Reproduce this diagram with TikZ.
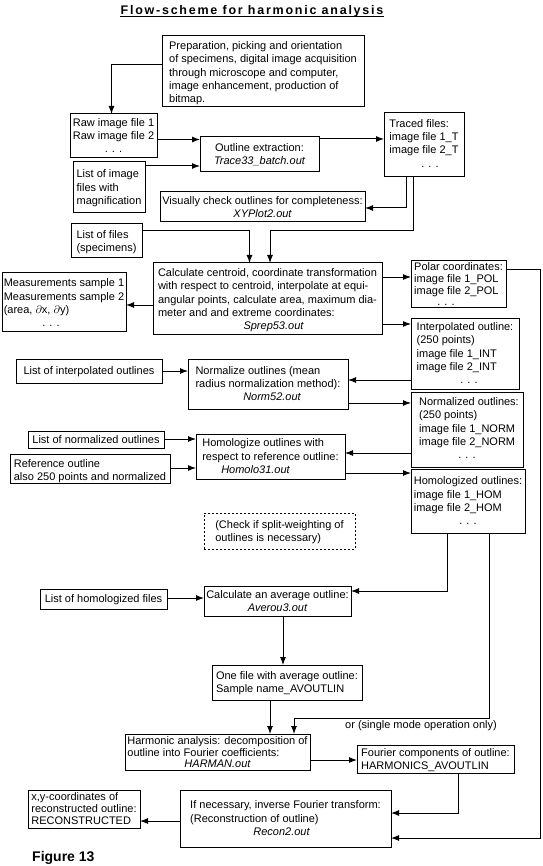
\documentclass[tikz,border=0pt]{standalone}
\usepackage{fontspec}
\setmainfont{Liberation Sans}
\usetikzlibrary{arrows.meta}
\newcommand{\mylines}[1]{\begin{tabular}{@{}l@{}}#1\end{tabular}}
\newcommand{\mycenlines}[1]{\begin{tabular}{@{}c@{}}#1\end{tabular}}
\newcommand{\mycen}[1]{\multicolumn{1}{@{}c@{}}{#1}}
\begin{document}
\begin{tikzpicture}[x=1pt,y=-1pt,
  bx/.style={draw, line width=1pt, anchor=north west, inner sep=0pt, outer sep=0pt},
  dbx/.style={bx, dash pattern=on 2pt off 2pt},
  tx/.style={inner sep=0pt, font=\fontsize{11}{13.3}\selectfont, yshift=-1pt},
  arr/.style={line width=1pt, -{Latex[length=8pt,width=6pt]}}]
\useasboundingbox (0,0) rectangle (542,866);
\fill[white] (0,0) rectangle (542,866);

% title
\node[anchor=base, inner sep=0pt] (title) at (252,14.5)
  {\fontsize{12.5}{14}\selectfont\bfseries\addfontfeature{LetterSpace=14}Flow-scheme for harmonic analysis};
\draw[line width=1pt] ([yshift=-2.2pt]title.base west) -- ([yshift=-2.2pt]title.base east);

% boxes
\node[bx, minimum width=202pt, minimum height=71pt] (prep) at (162,36) {};
\node[tx, yshift=-1pt] (prep-t) at (prep.center) {\mylines{Preparation, picking and orientation\\of specimens, digital image acquisition\\through microscope and computer,\\image enhancement, production of\\bitmap.}};

\node[bx, minimum width=87pt, minimum height=44pt] (raw) at (70,114) {};
\node[tx] (raw-t) at (raw.center) {\mylines{Raw image file 1\\Raw image file 2\\\mycen{. . .}}};

\node[bx, minimum width=119pt, minimum height=35pt] (outline) at (200,137) {};
\node[tx] (outline-t) at (outline.center) {\mycenlines{Outline extraction:\\\itshape Trace33\_batch.out}};

\node[bx, minimum width=72pt, minimum height=51pt] (listimg) at (73,162) {};
\node[tx] (listimg-t) at (listimg.center) {\mylines{List of image\\files with\\magnification}};

\node[bx, minimum width=80pt, minimum height=64pt] (traced) at (384,113) {};
\node[tx, yshift=1.5pt] (traced-t) at (traced.center) {\mylines{Traced files:\\image file 1\_T\\image file 2\_T\\\mycen{\hspace*{12pt}. . .}}};

\node[bx, minimum width=205pt, minimum height=30pt] (visual) at (160,192) {};
\node[tx] (visual-t) at (visual.center) {\mycenlines{Visually check outlines for completeness:\\\itshape XYPlot2.out}};

\node[bx, minimum width=71pt, minimum height=34pt] (listfiles) at (71,224) {};
\node[tx] (listfiles-t) at (listfiles.center) {\mylines{List of files\\(specimens)}};

\node[bx, minimum width=229pt, minimum height=71pt] (calc) at (153,263) {};
\node[tx, yshift=-1pt] (calc-t) at (calc.center) {\mylines{Calculate centroid, coordinate transformation\\with respect to centroid, interpolate at equi-\\angular points, calculate area, maximum dia-\\meter and and extreme coordinates:\\\mycen{\hspace*{12pt}\itshape Sprep53.out}}};

\node[bx, minimum width=124pt, minimum height=58pt] (meas) at (2,273) {};
\node[tx, yshift=-1pt] (meas-t) at (meas.center) {\mylines{Measurements sample 1\\Measurements sample 2\\(area, $\partial$x, $\partial$y)\\\mycen{\hspace*{-26pt}. . .}}};

\node[bx, minimum width=95pt, minimum height=46pt] (polar) at (411,261) {};
\node[tx, yshift=-0.5pt] (polar-t) at (polar.center) {\mylines{Polar coordinates:\\[-1.5pt]image file 1\_POL\\[-1.5pt]image file 2\_POL\\[-1.5pt]\mycen{\hspace*{-25pt}. . .}}};

\node[bx, minimum width=108pt, minimum height=71pt] (interp) at (411,318) {};
\node[tx] (interp-t) at (interp.center) {\mylines{Interpolated outline:\\(250 points)\\image file 1\_INT\\image file 2\_INT\\\mycen{\hspace*{8pt}. . .}}};

\node[bx, minimum width=146pt, minimum height=24pt] (listinterp) at (16,359) {};
\node[tx] (listinterp-t) at (listinterp.center) {List of interpolated outlines};

\node[bx, minimum width=160pt, minimum height=50pt] (normalize) at (188,359) {};
\node[tx] (normalize-t) at (normalize.center) {\mylines{Normalize outlines (mean\\radius normalization method):\\\mycen{\hspace*{8pt}\itshape Norm52.out}}};

\node[bx, minimum width=112pt, minimum height=75pt] (normalized) at (411,392) {};
\node[tx, xshift=2pt, yshift=1pt] (normalized-t) at (normalized.center) {\mylines{Normalized outlines:\\(250 points)\\image file 1\_NORM\\image file 2\_NORM\\\mycen{\hspace*{-4pt}. . .}}};

\node[bx, minimum width=136pt, minimum height=17pt] (listnorm) at (28,431) {};
\node[tx, yshift=1pt] (listnorm-t) at (listnorm.center) {List of normalized outlines};

\node[bx, minimum width=160pt, minimum height=29pt] (reference) at (10,454) {};
\node[tx, yshift=-2pt] (reference-t) at (reference.center) {\mylines{Reference outline\\also 250 points and normalized}};

\node[bx, minimum width=149pt, minimum height=45pt] (homologize) at (196,434) {};
\node[tx] (homologize-t) at (homologize.center) {\mylines{Homologize outlines with\\respect to reference outline:\\\mycen{\hspace*{-30pt}\itshape Homolo31.out}}};

\node[bx, minimum width=114pt, minimum height=64pt] (homologized) at (411,469) {};
\node[tx, yshift=0pt] (homologized-t) at (homologized.center) {\mylines{Homologized outlines:\\image file 1\_HOM\\image file 2\_HOM\\\mycen{. . .}}};

\node[dbx, minimum width=151pt, minimum height=36pt] (check) at (204,513) {};
\node[tx] (check-t) at (check.center) {\mylines{(Check if split-weighting of\\outlines is necessary)}};

\node[bx, minimum width=127pt, minimum height=20pt] (listhom) at (40,589) {};
\node[tx] (listhom-t) at (listhom.center) {List of homologized files};

\node[bx, minimum width=147pt, minimum height=30pt] (average) at (204,586) {};
\node[tx] (average-t) at (average.center) {\mycenlines{Calculate an average outline:\\\itshape Averou3.out}};

\node[bx, minimum width=150pt, minimum height=35pt] (onefile) at (212,665) {};
\node[tx] (onefile-t) at (onefile.center) {\mylines{One file with average outline:\\Sample name\_AVOUTLIN}};

\node[bx, minimum width=185pt, minimum height=36pt] (harmonic) at (125,734) {};
\node[tx, yshift=-0.5pt] (harmonic-t) at (harmonic.center) {\mylines{Harmonic analysis: decomposition of\\[-1.5pt]outline into Fourier coefficients:\\[-1.5pt]\mycen{\itshape HARMAN.out}}};

\node[bx, minimum width=157pt, minimum height=28pt] (fourier) at (357,745) {};
\node[tx] (fourier-t) at (fourier.center) {\mylines{Fourier components of outline:\\HARMONICS\_AVOUTLIN}};

\node[bx, minimum width=211pt, minimum height=57pt] (recon) at (180,790) {};
\node[tx] (recon-t) at (recon.center) {\mylines{If necessary, inverse Fourier transform:\\(Reconstruction of outline)\\\mycen{\hspace*{-8pt}\itshape Recon2.out}}};

\node[bx, minimum width=112pt, minimum height=38pt] (xy) at (28,790) {};
\node[tx] (xy-t) at (xy.center) {\mylines{x,y-coordinates of\\[-1.5pt]reconstructed outline:\\[-1.5pt]RECONSTRUCTED}};

\node[anchor=west, inner sep=0pt, font=\fontsize{11}{13.3}\selectfont] (ortext) at (345,726) {or (single mode operation only)};

\node[anchor=base west, inner sep=0pt] (fig) at (32,861) {\fontsize{14}{16}\selectfont\bfseries Figure 13};

% connectors
\draw[arr] (prep.west |- 0,65) -| (raw.north -| 111.5,0);
\draw[arr] (raw.east |- 0,139.5) -- (outline.west |- 0,139.5);
\draw[arr] (listimg.east |- 0,166) -- (outline.west |- 0,166);
\draw[arr] (outline.east |- 0,139) -- (traced.west |- 0,139);
\draw[arr] (traced.south -| 406,0) |- (visual.east |- 0,208);
\draw[arr] (traced.south -| 413,0) |- (270,231) -- (calc.north -| 270,0);
\draw[arr] (listfiles.east |- 0,231) -| (calc.north -| 249.5,0);
\draw[arr] (calc.west |- 0,305) -- (meas.east |- 0,305);
\draw[arr] (calc.east |- 0,277) -- (polar.west |- 0,277);
\draw[arr] (calc.east |- 0,324) -- (interp.west |- 0,324);
\draw[arr] (polar.east |- 0,270) -- (540,270) |- (recon.east |- 0,838);
\draw[arr] (interp.west |- 0,380) -- (normalize.east |- 0,380);
\draw[arr] (listinterp.east |- 0,371) -- (normalize.west |- 0,371);
\draw[arr] (normalize.east |- 0,403) -- (normalized.west |- 0,403);
\draw[arr] (normalized.west |- 0,453) -- (homologize.east |- 0,453);
\draw[arr] (listnorm.east |- 0,439) -- (homologize.west |- 0,439);
\draw[arr] (reference.east |- 0,468) -- (homologize.west |- 0,468);
\draw[arr] (homologize.east |- 0,473) -- (homologized.west |- 0,473);
\draw[arr] (homologized.south -| 447,0) |- (average.east |- 0,591);
\draw[arr] (listhom.east |- 0,598) -- (average.west |- 0,598);
\draw[arr] (homologized.south -| 489.5,0) |- (294,718) -- (harmonic.north -| 294,0);
\draw[arr] (average.south -| 283,0) -- (onefile.north -| 283,0);
\draw[arr] (onefile.south -| 270,0) -- (harmonic.north -| 270,0);
\draw[arr] (harmonic.east |- 0,760) -- (fourier.west |- 0,760);
\draw[arr] (fourier.south -| 458,0) |- (recon.east |- 0,813);
\draw[arr] (recon.west |- 0,821) -- (xy.east |- 0,821);
\end{tikzpicture}
\end{document}
